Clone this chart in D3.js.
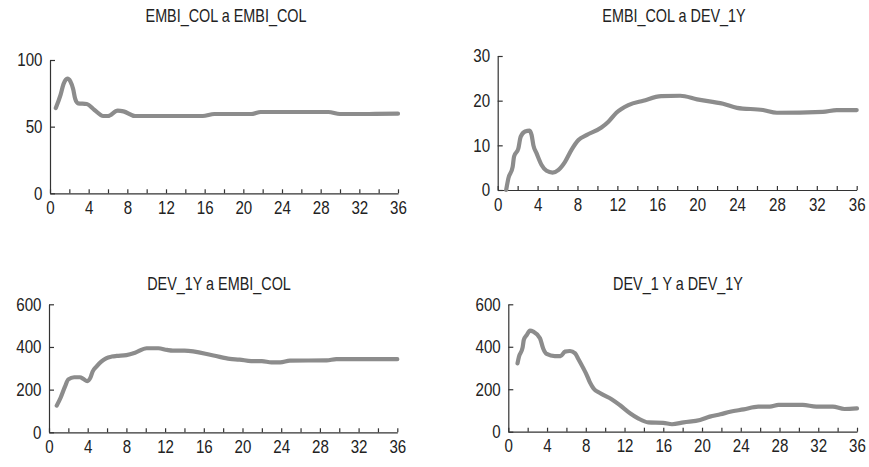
<!DOCTYPE html>
<html>
<head>
<meta charset="utf-8">
<script src="https://cdn.jsdelivr.net/npm/d3@7"></script>
<style>
  body { margin: 0; background: #fff; }
  svg { display: block; font-family: "Liberation Sans", Arial, sans-serif; }
  .domain, .tick line { stroke: #333; stroke-width: 1.2; }
  .tick text { fill: #222; font-size: 18px; }
</style>
</head>
<body>
<svg width="869" height="467"></svg>
<script>
// EMBI_COL a EMBI_COL
let x1 = [0.6, 1.1, 1.4, 1.8, 2.1, 2.4, 2.6, 2.9, 3.8, 4.6, 5.5, 6, 7, 7.6, 8.8, 12, 15.8, 17, 20.8, 21.8, 25, 28.8, 30, 33, 36]
let y1 = [64, 74, 82, 86, 84, 78, 71, 67.5, 67, 62.5, 58, 58, 62, 61.5, 58, 58, 58, 59.5, 59.5, 61, 61, 61, 59.5, 59.5, 59.7]

// EMBI_COL a DEV_1Y
let x2 = [0.85, 1.07, 1.5, 1.64, 2.07, 2.3, 2.74, 3.2, 3.4, 3.58, 3.9, 4.4, 4.9, 5.5, 6.1, 6.75, 7.4, 8.1, 8.9, 10.4, 11.1, 11.9, 13.1, 14.6, 16.4, 18.3, 20, 22.6, 24, 26.6, 28, 32.6, 34, 36]
let y2 = [0, 2.6, 5.2, 7.5, 9.3, 11.9, 13.1, 13.3, 12.3, 10, 8.2, 5.6, 4.3, 3.9, 4.5, 6.3, 9, 11.2, 12.3, 14, 15.3, 17.3, 19, 20, 21, 21.1, 20.3, 19.3, 18.4, 17.9, 17.3, 17.5, 17.9, 17.9]

// DEV_1Y a EMBI_COL
let x3 = [0.8, 1.2, 1.65, 2, 2.6, 3.2, 3.55, 3.96, 4.3, 4.5, 4.9, 5.4, 5.9, 6.5, 7, 8, 8.9, 10.1, 11.3, 12.2, 12.8, 14, 17, 18.7, 19.7, 20.9, 22, 23, 23.9, 24.9, 28.7, 29.7, 36]
let y3 = [125, 162, 214, 248, 258, 258, 250, 240, 258, 284, 308, 331, 347, 355, 358, 362, 373, 394, 394, 386, 383, 383, 360, 344, 341, 334, 334, 328, 328, 336, 337, 343, 343]

// DEV_1 Y a DEV_1Y
let x4 = [0.95, 1.1, 1.48, 1.6, 1.9, 2.24, 2.58, 3.27, 3.6, 3.96, 4.8, 5.4, 5.85, 6.37, 6.9, 7.2, 7.7, 8.1, 8.4, 8.8, 9.5, 10.7, 11.5, 12.6, 13.4, 14.45, 16, 16.9, 18.1, 19.8, 20.8, 21.9, 22.9, 24.3, 25.8, 27, 27.9, 30.4, 31.8, 33.5, 34.7, 36]
let y4 = [322, 353, 397, 432, 455, 476, 471, 440, 392, 366, 356, 356, 377, 380, 369, 345, 303, 267, 235, 204, 181, 152, 126, 86, 63, 44, 42, 35, 44, 55, 71, 82, 94, 105, 118, 118, 126, 126, 118, 118, 107, 110]

let titles = ["EMBI_COL a EMBI_COL", "EMBI_COL a DEV_1Y", "DEV_1Y a EMBI_COL", "DEV_1 Y a DEV_1Y"]
let yTicks = [[0, 50, 100], [0, 10, 20, 30], [0, 200, 400, 600], [0, 200, 400, 600]]
let xTicks = d3.range(0, 37, 2)

let panels = [
  {xs: x1, ys: y1, left: 50, right: 398, top: 60, bottom: 193.3, ymax: 100, tx: 226, ty: 22},
  {xs: x2, ys: y2, left: 497.7, right: 856.7, top: 56, bottom: 190, ymax: 30, tx: 674, ty: 22},
  {xs: x3, ys: y3, left: 49, right: 397.3, top: 304.3, bottom: 432.3, ymax: 600, tx: 219, ty: 290},
  {xs: x4, ys: y4, left: 508.3, right: 857, top: 304.3, bottom: 431.7, ymax: 600, tx: 678, ty: 290}
]

// squeeze text to look like a condensed face
let squeeze = 0.84

let svg = d3.select('svg')

panels.forEach(function(p, i) {
  let x = d3.scaleLinear().domain([0, 36]).range([p.left, p.right])
  let y = d3.scaleLinear().domain([0, p.ymax]).range([p.bottom, p.top])
  let g = svg.append('g')

  // title
  g.append('g')
    .attr('transform', 'translate(' + p.tx + ',' + p.ty + ') scale(0.8,1)')
    .append('text')
    .attr('text-anchor', 'middle')
    .style('font-size', '18px')
    .style('fill', '#222')
    .text(titles[i])

  // x axis, ticks pointing up
  let xa = g.append('g')
    .attr('transform', 'translate(0,' + p.bottom + ')')
    .call(d3.axisBottom(x).tickValues(xTicks).tickSizeInner(-4).tickSizeOuter(0).tickPadding(8)
      .tickFormat(d => d % 4 == 0 ? d : ''))
  xa.selectAll('.tick text').attr('transform', 'scale(' + squeeze + ',1)')

  // y axis, ticks pointing right
  let ya = g.append('g')
    .attr('transform', 'translate(' + p.left + ',0)')
    .call(d3.axisLeft(y).tickValues(yTicks[i]).tickSizeInner(-5).tickSizeOuter(0).tickPadding(9))
  ya.selectAll('.tick text').attr('transform', 'scale(' + squeeze + ',1)')

  // line
  let pts = p.xs.map((d, j) => [d, p.ys[j]])
  g.append('path')
    .datum(pts)
    .attr('fill', 'none')
    .attr('stroke', '#8c8c8c')
    .attr('stroke-width', 4.2)
    .attr('stroke-linejoin', 'round')
    .attr('stroke-linecap', 'round')
    .attr('d', d3.line().x(d => x(d[0])).y(d => y(d[1])).curve(d3.curveMonotoneX))
})
</script>
</body>
</html>
